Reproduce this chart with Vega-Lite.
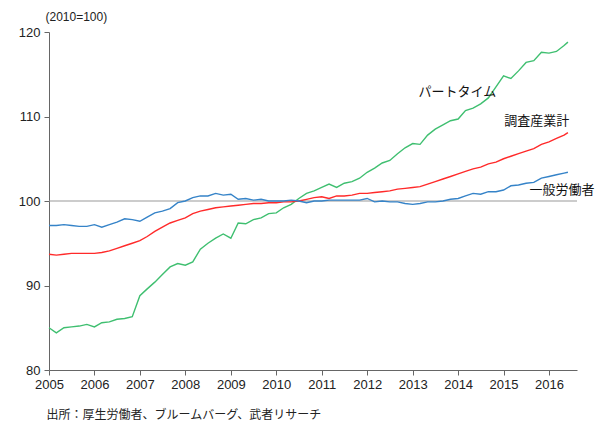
{
  "$schema": "https://vega.github.io/schema/vega-lite/v6.json",
  "width": 528,
  "height": 338,
  "autosize": {"type": "none"},
  "padding": {"left": 49, "top": 32, "right": 24, "bottom": 64},
  "background": "white",
  "config": {
    "view": {"stroke": null},
    "axis": {"labelFont": "Liberation Sans", "labelFontSize": 13, "labelColor": "#222", "domainColor": "#666", "tickColor": "#666", "grid": false}
  },
  "datasets": {
    "series": [
      {"d": "2005-01-01", "p": 85.0, "s": 93.7, "g": 97.1},
      {"d": "2005-03-01", "p": 84.4, "s": 93.6, "g": 97.1},
      {"d": "2005-05-01", "p": 85.0, "s": 93.7, "g": 97.2},
      {"d": "2005-07-01", "p": 85.1, "s": 93.8, "g": 97.1},
      {"d": "2005-09-01", "p": 85.2, "s": 93.8, "g": 97.0},
      {"d": "2005-11-01", "p": 85.4, "s": 93.8, "g": 97.0},
      {"d": "2006-01-01", "p": 85.1, "s": 93.8, "g": 97.2},
      {"d": "2006-03-01", "p": 85.6, "s": 93.9, "g": 96.9},
      {"d": "2006-05-01", "p": 85.7, "s": 94.1, "g": 97.2},
      {"d": "2006-07-01", "p": 86.0, "s": 94.4, "g": 97.5},
      {"d": "2006-09-01", "p": 86.1, "s": 94.7, "g": 97.9},
      {"d": "2006-11-01", "p": 86.3, "s": 95.0, "g": 97.8},
      {"d": "2007-01-01", "p": 88.8, "s": 95.3, "g": 97.6},
      {"d": "2007-03-01", "p": 89.6, "s": 95.8, "g": 98.1},
      {"d": "2007-05-01", "p": 90.4, "s": 96.4, "g": 98.6},
      {"d": "2007-07-01", "p": 91.3, "s": 96.9, "g": 98.8},
      {"d": "2007-09-01", "p": 92.2, "s": 97.4, "g": 99.1},
      {"d": "2007-11-01", "p": 92.6, "s": 97.7, "g": 99.8},
      {"d": "2008-01-01", "p": 92.4, "s": 98.0, "g": 100.0},
      {"d": "2008-03-01", "p": 92.8, "s": 98.5, "g": 100.4},
      {"d": "2008-05-01", "p": 94.3, "s": 98.8, "g": 100.6},
      {"d": "2008-07-01", "p": 95.0, "s": 99.0, "g": 100.6},
      {"d": "2008-09-01", "p": 95.6, "s": 99.2, "g": 100.9},
      {"d": "2008-11-01", "p": 96.1, "s": 99.3, "g": 100.7},
      {"d": "2009-01-01", "p": 95.6, "s": 99.4, "g": 100.8},
      {"d": "2009-03-01", "p": 97.4, "s": 99.5, "g": 100.2},
      {"d": "2009-05-01", "p": 97.3, "s": 99.6, "g": 100.3},
      {"d": "2009-07-01", "p": 97.8, "s": 99.7, "g": 100.1},
      {"d": "2009-09-01", "p": 98.0, "s": 99.7, "g": 100.2},
      {"d": "2009-11-01", "p": 98.5, "s": 99.8, "g": 100.0},
      {"d": "2010-01-01", "p": 98.6, "s": 99.8, "g": 100.0},
      {"d": "2010-03-01", "p": 99.2, "s": 99.9, "g": 100.0},
      {"d": "2010-05-01", "p": 99.6, "s": 99.9, "g": 100.1},
      {"d": "2010-07-01", "p": 100.3, "s": 100.0, "g": 100.0},
      {"d": "2010-09-01", "p": 100.9, "s": 100.2, "g": 99.8},
      {"d": "2010-11-01", "p": 101.2, "s": 100.4, "g": 100.0},
      {"d": "2011-01-01", "p": 101.6, "s": 100.5, "g": 100.0},
      {"d": "2011-03-01", "p": 102.0, "s": 100.3, "g": 100.1},
      {"d": "2011-05-01", "p": 101.6, "s": 100.6, "g": 100.1},
      {"d": "2011-07-01", "p": 102.1, "s": 100.6, "g": 100.1},
      {"d": "2011-09-01", "p": 102.3, "s": 100.7, "g": 100.1},
      {"d": "2011-11-01", "p": 102.7, "s": 100.9, "g": 100.1},
      {"d": "2012-01-01", "p": 103.4, "s": 100.9, "g": 100.3},
      {"d": "2012-03-01", "p": 103.9, "s": 101.0, "g": 99.9},
      {"d": "2012-05-01", "p": 104.5, "s": 101.1, "g": 100.0},
      {"d": "2012-07-01", "p": 104.8, "s": 101.2, "g": 99.9},
      {"d": "2012-09-01", "p": 105.6, "s": 101.4, "g": 99.9},
      {"d": "2012-11-01", "p": 106.3, "s": 101.5, "g": 99.7},
      {"d": "2013-01-01", "p": 106.8, "s": 101.6, "g": 99.6},
      {"d": "2013-03-01", "p": 106.7, "s": 101.7, "g": 99.7},
      {"d": "2013-05-01", "p": 107.8, "s": 102.0, "g": 99.9},
      {"d": "2013-07-01", "p": 108.5, "s": 102.3, "g": 99.9},
      {"d": "2013-09-01", "p": 109.0, "s": 102.6, "g": 100.0},
      {"d": "2013-11-01", "p": 109.5, "s": 102.9, "g": 100.2},
      {"d": "2014-01-01", "p": 109.7, "s": 103.2, "g": 100.3},
      {"d": "2014-03-01", "p": 110.7, "s": 103.5, "g": 100.6},
      {"d": "2014-05-01", "p": 111.0, "s": 103.8, "g": 100.9},
      {"d": "2014-07-01", "p": 111.5, "s": 104.0, "g": 100.8},
      {"d": "2014-09-01", "p": 112.2, "s": 104.4, "g": 101.1},
      {"d": "2014-11-01", "p": 113.5, "s": 104.6, "g": 101.1},
      {"d": "2015-01-01", "p": 114.8, "s": 105.0, "g": 101.3},
      {"d": "2015-03-01", "p": 114.5, "s": 105.3, "g": 101.8},
      {"d": "2015-05-01", "p": 115.4, "s": 105.6, "g": 101.9},
      {"d": "2015-07-01", "p": 116.4, "s": 105.9, "g": 102.1},
      {"d": "2015-09-01", "p": 116.6, "s": 106.2, "g": 102.2},
      {"d": "2015-11-01", "p": 117.6, "s": 106.7, "g": 102.7},
      {"d": "2016-01-01", "p": 117.5, "s": 107.0, "g": 102.9},
      {"d": "2016-03-01", "p": 117.7, "s": 107.4, "g": 103.1},
      {"d": "2016-05-01", "p": 118.4, "s": 107.8, "g": 103.3},
      {"d": "2016-06-01", "p": 118.8, "s": 108.1, "g": 103.4}
    ],
    "labels": [
      {"d": "2013-12-25", "v": 112.9, "label": "パートタイム"},
      {"d": "2015-09-25", "v": 109.5, "label": "調査産業計"},
      {"d": "2016-04-15", "v": 101.3, "label": "一般労働者"}
    ],
    "ref": [{"v": 100}]
  },
  "layer": [
    {
      "data": {"name": "ref"},
      "mark": {"type": "rule", "color": "#999", "strokeWidth": 1.2},
      "encoding": {
        "y": {"field": "v", "type": "quantitative", "scale": {"domain": [80, 120]}}
      }
    },
    {
      "data": {"name": "series"},
      "transform": [{"fold": ["p", "s", "g"], "as": ["k", "val"]}],
      "mark": {"type": "line", "strokeWidth": 1.4},
      "encoding": {
        "x": {
          "field": "d", "type": "temporal",
          "scale": {"type": "utc", "domain": ["2005-01-01", "2016-08-13"]},
          "axis": {"format": "%Y", "tickCount": {"interval": "year", "step": 1}, "title": "出所：厚生労働者、ブルームバーグ、武者リサーチ", "titleFont": "Noto Sans CJK JP", "titleFontSize": 12, "titleFontWeight": "normal", "titleColor": "#222", "titleAnchor": "start", "titleAlign": "left", "titleX": -3, "titleY": 39, "labelPadding": 3, "tickSize": 5, "labelFlush": false, "labelOverlap": false}
        },
        "y": {
          "field": "val", "type": "quantitative",
          "scale": {"domain": [80, 120], "nice": false},
          "axis": {"values": [80, 90, 100, 110, 120], "tickSize": 5, "labelPadding": 4, "title": "(2010=100)", "titleFont": "Liberation Sans", "titleFontSize": 12, "titleFontWeight": "normal", "titleColor": "#222", "titleAngle": 0, "titleAlign": "left", "titleBaseline": "middle", "titleX": -4, "titleY": -16}
        },
        "color": {"field": "k", "type": "nominal", "scale": {"domain": ["p", "s", "g"], "range": ["#3fbf70", "#ff2a2a", "#3583c8"]}, "legend": null}
      }
    },
    {
      "data": {"name": "labels"},
      "mark": {"type": "text", "font": "Noto Sans CJK JP", "fontSize": 13, "color": "#111", "align": "center", "baseline": "middle"},
      "encoding": {
        "x": {"field": "d", "type": "temporal"},
        "y": {"field": "v", "type": "quantitative"},
        "text": {"field": "label"}
      }
    }
  ]
}
